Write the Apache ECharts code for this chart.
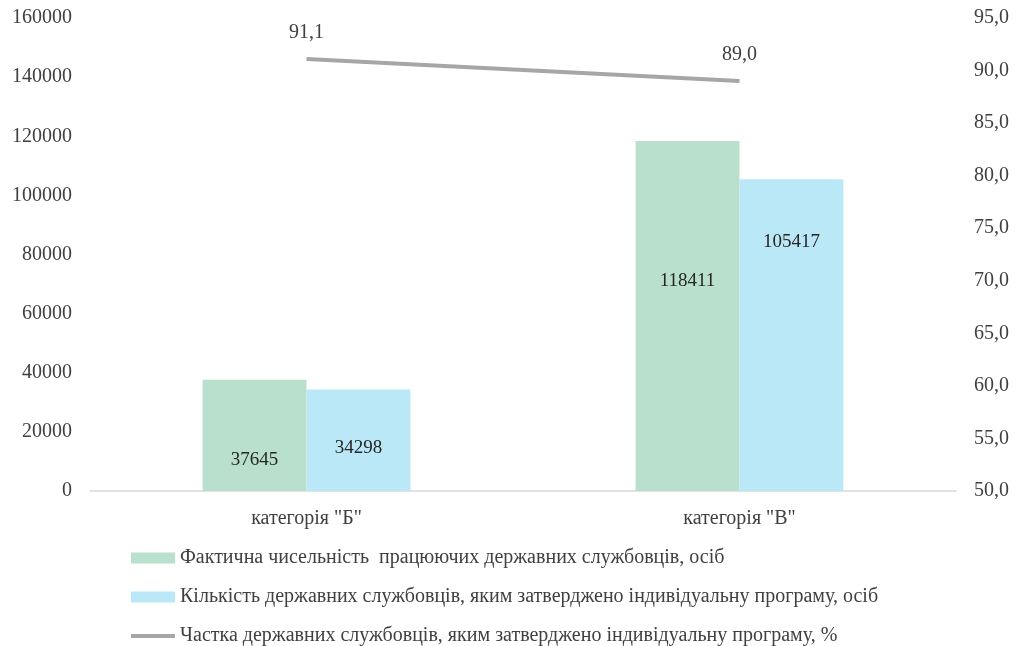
<!DOCTYPE html>
<html>
<head>
<meta charset="utf-8">
<script src="https://cdn.jsdelivr.net/npm/echarts@6/dist/echarts.min.js"></script>
<style>
  html, body { margin: 0; padding: 0; background: #fff; }
  #chart { width: 1017px; height: 646px; }
</style>
</head>
<body>
<div id="chart"></div>
<script>
// categories and values
var categories = ['категорія "Б"', 'категорія "В"'];
var actualCount = [37645, 118411];      // фактична чисельність
var programCount = [34298, 105417];     // затверджено програму
var sharePct = [91.1, 89.0];            // частка, %

var seriesNames = [
  'Фактична чисельність  працюючих державних службовців, осіб',
  'Кількість державних службовців, яким затверджено індивідуальну програму, осіб',
  'Частка державних службовців, яким затверджено індивідуальну програму, %'
];

// label lift above the bar base (the original labels were hand-placed)
var actualLabelLift = [21, 200];
var programLabelLift = [33, 239];

var font = 'Liberation Serif';
var textColor = '#404040';
var lineGrey = '#a6a6a6';

function barData(values, lifts) {
  return values.map(function (v, i) {
    return { value: v, label: { distance: lifts[i] } };
  });
}

var chart = echarts.init(document.getElementById('chart'));
chart.setOption({
  animation: false,
  textStyle: { fontFamily: font },
  grid: { left: 90, right: 61, top: 18, bottom: 155 },
  legend: {
    orient: 'vertical',
    left: 124,
    top: 543,
    height: 110,
    itemGap: 19,
    itemWidth: 44,
    itemHeight: 11,
    textStyle: { fontFamily: font, fontSize: 20, color: textColor },
    data: [
      { name: seriesNames[0], icon: 'rect' },
      { name: seriesNames[1], icon: 'rect' },
      { name: seriesNames[2], lineStyle: { width: 4, color: lineGrey } }
    ]
  },
  xAxis: {
    type: 'category',
    data: categories,
    axisLine: { lineStyle: { color: '#d9d9d9', width: 1.5 } },
    axisTick: { show: false },
    axisLabel: { fontFamily: font, fontSize: 20, color: textColor, margin: 18 }
  },
  yAxis: [
    {
      type: 'value',
      min: 0, max: 160000, interval: 20000,
      splitLine: { show: false },
      axisLabel: {
        fontFamily: font, fontSize: 20, color: textColor, margin: 18,
        formatter: function (v) { return String(v); }
      }
    },
    {
      type: 'value',
      min: 50, max: 95, interval: 5,
      splitLine: { show: false },
      axisLabel: {
        fontFamily: font, fontSize: 20, color: textColor, margin: 18,
        formatter: function (v) { return v.toFixed(1).replace('.', ','); }
      }
    }
  ],
  series: [
    {
      name: seriesNames[0],
      type: 'bar',
      barWidth: '24%',
      barGap: '0%',
      itemStyle: { color: '#b9e0cc' },
      label: { show: true, position: 'insideBottom', fontFamily: font, fontSize: 19, color: '#262626' },
      data: barData(actualCount, actualLabelLift)
    },
    {
      name: seriesNames[1],
      type: 'bar',
      barWidth: '24%',
      itemStyle: { color: '#bae8f6' },
      label: { show: true, position: 'insideBottom', fontFamily: font, fontSize: 19, color: '#262626' },
      data: barData(programCount, programLabelLift)
    },
    {
      name: seriesNames[2],
      type: 'line',
      yAxisIndex: 1,
      symbol: 'circle',
      symbolSize: 1,
      lineStyle: { color: lineGrey, width: 4 },
      itemStyle: { color: 'rgba(0,0,0,0)' },
      label: {
        show: true, position: 'top', distance: 16,
        fontFamily: font, fontSize: 20, color: textColor,
        formatter: function (p) { return p.value.toFixed(1).replace('.', ','); }
      },
      data: sharePct
    }
  ]
});
</script>
</body>
</html>
